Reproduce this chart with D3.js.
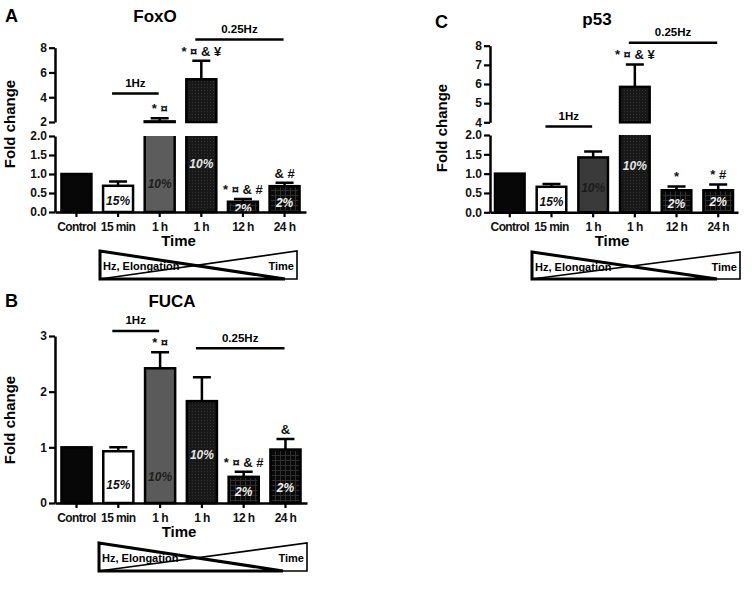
<!DOCTYPE html>
<html><head><meta charset="utf-8">
<script src="https://cdn.jsdelivr.net/npm/d3@7"></script>
<style>body{margin:0;background:#fff}svg{display:block}text{font-family:"Liberation Sans",Arial,sans-serif;font-weight:bold}</style>
</head><body><svg id="c" width="752" height="589"></svg>
<script>
// ---------- data ----------
const categories = ["Control", "15 min", "1 h", "1 h", "12 h", "24 h"];
const strainLabels = ["", "15%", "10%", "10%", "2%", "2%"];
const freqLabels = ["1Hz", "0.25Hz"];
const freqSpans = [[1, 2], [3, 5]];
const gradientLabels = ["Hz, Elongation", "Time"];

const foxoMean = [1.00, 0.69, 2.05, 5.45, 0.27, 0.68];
const foxoSem  = [0, 0.11, 0.25, 1.49, 0.07, 0.09];
const foxoSig  = ["", "", "* ¤", "* ¤ & ¥", "* ¤ & #", "& #"];
const foxoLowerTicks = [0, 0.5, 1.0, 1.5, 2.0];
const foxoUpperTicks = [2, 4, 6, 8];

const fucaMean = [1.00, 0.93, 2.42, 1.83, 0.47, 0.96];
const fucaSem  = [0, 0.07, 0.29, 0.43, 0.09, 0.19];
const fucaSig  = ["", "", "* ¤", "", "* ¤ & #", "&"];
const fucaTicks = [0, 1, 2, 3];

const p53Mean = [1.00, 0.66, 1.42, 5.85, 0.57, 0.57];
const p53Sem  = [0, 0.07, 0.15, 1.17, 0.10, 0.15];
const p53Sig  = ["", "", "", "* ¤ & ¥", "*", "* #"];
const p53LowerTicks = [0, 0.5, 1.0, 1.5, 2.0];
const p53UpperTicks = [4, 5, 6, 7, 8];

// ---------- layout ----------
const svg = d3.select("#c");
const defs = svg.append("defs");
const dots = defs.append("pattern").attr("id", "dots").attr("patternUnits", "userSpaceOnUse").attr("width", 3).attr("height", 3);
dots.append("rect").attr("width", 3).attr("height", 3).attr("fill", "#181818");
dots.append("rect").attr("width", 1).attr("height", 1).attr("fill", "#333");
const grid = defs.append("pattern").attr("id", "grid").attr("patternUnits", "userSpaceOnUse").attr("width", 5).attr("height", 5);
grid.append("rect").attr("width", 5).attr("height", 5).attr("fill", "#090909");
grid.append("path").attr("d", "M0,0.5H5M0.5,0V5").attr("stroke", "#2f2f2f").attr("stroke-width", 1);

const panels = [
  { letter: "A", title: "FoxO", letterPos: [5, 22], titlePos: [155, 22],
    mean: foxoMean, sem: foxoSem, sig: foxoSig,
    x0: 55, x1: 306, pi: 0.28, po: 0.155,
    segs: [{ domain: [0, 2], range: [212, 136], ticks: foxoLowerTicks, fmt: ".1f" },
           { domain: [2, 8], range: [122, 47.7], ticks: foxoUpperTicks, fmt: "d" }],
    freq: [{ seg: 1, v: 4.3 }, { seg: 1, v: 8.67 }],
    fills: ["#070707", "#ffffff", "#5c5c5c", "url(#dots)", "url(#grid)", "url(#grid)"],
    pctColor: ["", "#111", "#1e1e1e", "#e6e6e6", "#eeeeee", "#eeeeee"],
    pctAt: [0, 0.30, 0.74, 1.28, 0.09, 0.26],
    ylab: [15, 124],
    tri: { l: 100, r: 297, t: 251, b: 279, m: 285, ty: 270 } },
  { letter: "B", title: "FUCA", letterPos: [5, 307], titlePos: [172, 307],
    mean: fucaMean, sem: fucaSem, sig: fucaSig,
    x0: 55, x1: 307, pi: 0.28, po: 0.155,
    segs: [{ domain: [0, 3], range: [503, 336], ticks: fucaTicks, fmt: "d" }],
    freq: [{ seg: 0, v: 3.09 }, { seg: 0, v: 2.78 }],
    fills: ["#070707", "#ffffff", "#5a5a5a", "url(#dots)", "url(#grid)", "url(#grid)"],
    pctColor: ["", "#111", "#1e1e1e", "#e6e6e6", "#eeeeee", "#eeeeee"],
    pctAt: [0, 0.33, 0.47, 0.87, 0.21, 0.27],
    ylab: [15, 420],
    tri: { l: 99, r: 307, t: 543, b: 571, m: 283, ty: 562 } },
  { letter: "C", title: "p53", letterPos: [435, 28], titlePos: [597, 25],
    mean: p53Mean, sem: p53Sem, sig: p53Sig,
    x0: 490, x1: 738, pi: 0.29, po: 0.12,
    segs: [{ domain: [0, 2], range: [212.3, 135], ticks: p53LowerTicks, fmt: ".1f" },
           { domain: [4, 8], range: [122.3, 45.7], ticks: p53UpperTicks, fmt: "d" }],
    freq: [{ seg: 0, v: 2.22 }, { seg: 1, v: 8.15 }],
    fills: ["#070707", "#ffffff", "#3a3a3a", "url(#dots)", "url(#grid)", "url(#grid)"],
    pctColor: ["", "#111", "#1a1a1a", "#e6e6e6", "#eeeeee", "#eeeeee"],
    pctAt: [0, 0.27, 0.63, 1.20, 0.22, 0.27],
    ylab: [447, 128],
    tri: { l: 532, r: 740, t: 252, b: 279, m: 717, ty: 271 } }
];

function styleAxis(sel) {
  sel.select(".domain").attr("stroke", "#000").attr("stroke-width", 2.5);
  sel.selectAll(".tick line").attr("stroke", "#000").attr("stroke-width", 2.2);
  sel.selectAll(".tick text").attr("fill", "#111").style("font-size", "12px").style("font-weight", "bold");
}

panels.forEach(p => {
  const g = svg.append("g");
  g.append("text").attr("x", p.letterPos[0]).attr("y", p.letterPos[1]).style("font-size", "18px").text(p.letter);
  g.append("text").attr("x", p.titlePos[0]).attr("y", p.titlePos[1]).attr("text-anchor", "middle").style("font-size", "17px").text(p.title);

  const x = d3.scaleBand().domain(d3.range(categories.length)).range([p.x0, p.x1]).paddingInner(p.pi).paddingOuter(p.po);
  const segs = p.segs.map(s => Object.assign({}, s, { y: d3.scaleLinear().domain(s.domain).range(s.range) }));
  const bw = x.bandwidth();
  const cx = i => x(i) + bw / 2;

  segs.forEach(s => {
    g.append("g").attr("transform", `translate(${p.x0},0)`)
      .call(d3.axisLeft(s.y).tickValues(s.ticks).tickFormat(d3.format(s.fmt)).tickSize(6).tickSizeOuter(0).tickPadding(2))
      .call(styleAxis);
  });

  const lower = segs[0], upper = segs[1];
  // bars
  p.mean.forEach((v, i) => {
    const top0 = Math.min(v, lower.domain[1]);
    const yb = lower.y(0), yt = lower.y(top0);
    const truncated = v > lower.domain[1];
    g.append("rect").attr("x", x(i)).attr("y", yt).attr("width", bw).attr("height", yb - yt)
      .attr("fill", p.fills[i]).attr("stroke", truncated ? "none" : "#000").attr("stroke-width", 2.5);
    if (truncated) {
      g.append("path").attr("d", `M${x(i)},${yt}V${yb}H${x(i) + bw}V${yt}`)
        .attr("fill", "none").attr("stroke", "#000").attr("stroke-width", 2.5);
    }
    if (upper && v > upper.domain[0]) {
      const ub = upper.y(upper.domain[0]), ut = upper.y(v);
      g.append("rect").attr("x", x(i)).attr("y", ut).attr("width", bw).attr("height", Math.max(0.5, ub - ut))
        .attr("fill", p.fills[i]).attr("stroke", "#000").attr("stroke-width", 2.5);
    }
    // error bar
    const e = v + p.sem[i];
    const s = (upper && e > upper.domain[0]) ? upper : lower;
    if (p.sem[i] > 0) {
      const y1 = s.y(Math.max(v, s.domain[0])), y2 = s.y(e);
      g.append("path").attr("d", `M${cx(i)},${y1}V${y2}M${cx(i) - 9},${y2}H${cx(i) + 9}`)
        .attr("fill", "none").attr("stroke", "#000").attr("stroke-width", 2.5);
    }
    if (p.sig[i]) {
      g.append("text").attr("x", cx(i)).attr("y", s.y(e) - 5).attr("text-anchor", "middle")
        .style("font-size", "13px").attr("fill", "#111").text(p.sig[i]);
    }
    if (strainLabels[i]) {
      g.append("text").attr("x", cx(i)).attr("y", lower.y(p.pctAt[i]) + 4.5).attr("text-anchor", "middle")
        .style("font-size", "12px").style("font-style", "italic").attr("fill", p.pctColor[i]).text(strainLabels[i]);
    }
  });

  // x axis
  const xa = g.append("g").attr("transform", `translate(0,${lower.y(0)})`)
    .call(d3.axisBottom(x).tickFormat(i => categories[i]).tickSize(5).tickSizeOuter(0))
    .call(styleAxis);
  xa.selectAll(".tick text").attr("dy", null).attr("y", 18.5).style("font-size", "12px").attr("letter-spacing", "-0.6");
  g.append("text").attr("x", (p.x0 + p.x1) / 2 - 2).attr("y", lower.y(0) + 34).attr("text-anchor", "middle")
    .style("font-size", "15px").text("Time");

  // y label
  g.append("text").attr("transform", `translate(${p.ylab[0]},${p.ylab[1]}) rotate(-90)`).attr("text-anchor", "middle")
    .style("font-size", "15px").text("Fold change");

  // frequency lines
  p.freq.forEach((f, k) => {
    const yy = segs[f.seg].y(f.v);
    const xa0 = cx(freqSpans[k][0]) - 6, xa1 = cx(freqSpans[k][1]) - 1;
    g.append("line").attr("x1", xa0).attr("x2", xa1).attr("y1", yy).attr("y2", yy).attr("stroke", "#000").attr("stroke-width", 2.5);
    g.append("text").attr("x", (xa0 + xa1) / 2).attr("y", yy - 6.5).attr("text-anchor", "middle")
      .style("font-size", "11.5px").text(freqLabels[k]);
  });

  // gradient triangles
  const t = p.tri;
  g.append("path").attr("d", `M${t.l},${t.b}L${t.r},${t.t}V${t.b}H${t.m}`).attr("fill", "none").attr("stroke", "#000").attr("stroke-width", 1.6);
  g.append("path").attr("d", `M${t.l},${t.t}V${t.b}H${t.m}Z`).attr("fill", "none").attr("stroke", "#000").attr("stroke-width", 3).attr("stroke-linejoin", "miter");
  g.append("text").attr("x", t.l + 3).attr("y", t.ty).style("font-size", "11px").text(gradientLabels[0]);
  g.append("text").attr("x", t.r - 3).attr("y", t.ty).attr("text-anchor", "end").style("font-size", "11px").text(gradientLabels[1]);
});
</script>
</body></html>
